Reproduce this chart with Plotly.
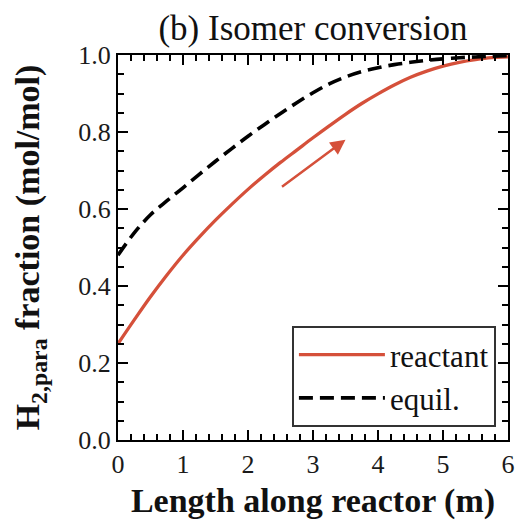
import plotly.graph_objects as go

length_m = [0, 0.25, 0.5, 0.75, 1.0, 1.25, 1.5, 1.75, 2.0, 2.25, 2.5, 2.75, 3.0,
            3.25, 3.5, 3.75, 4.0, 4.25, 4.5, 4.75, 5.0, 5.25, 5.5, 5.75, 6.0]
reactant = [0.25, 0.312, 0.372, 0.428, 0.48, 0.527, 0.571, 0.612, 0.651, 0.687, 0.721, 0.753, 0.785,
            0.816, 0.846, 0.874, 0.899, 0.922, 0.942, 0.958, 0.971, 0.981, 0.988, 0.993, 0.995]
equil = [0.48, 0.538, 0.585, 0.621, 0.655, 0.69, 0.724, 0.757, 0.789, 0.819, 0.848, 0.876, 0.902,
         0.925, 0.943, 0.957, 0.967, 0.975, 0.981, 0.986, 0.99, 0.993, 0.995, 0.997, 0.998]

arrow_start = (2.5, 0.655)
arrow_end = (3.5, 0.78)

RED = "#D5503A"
SERIF = "Liberation Serif, Times New Roman, serif"

fig = go.Figure()
fig.add_trace(go.Scatter(x=length_m, y=reactant, mode="lines", name="reactant",
                         line=dict(color=RED, width=3.3, shape="spline", smoothing=1.0)))
fig.add_trace(go.Scatter(x=length_m, y=equil, mode="lines", name="equil.",
                         line=dict(color="black", width=3.6, dash="14px,7px", shape="spline", smoothing=1.0)))

fig.add_annotation(x=arrow_end[0], y=arrow_end[1], ax=arrow_start[0], ay=arrow_start[1],
                   xref="x", yref="y", axref="x", ayref="y", text="", showarrow=True,
                   arrowhead=2, arrowsize=1.2, arrowwidth=2.5, arrowcolor=RED)

axis_common = dict(showline=True, linecolor="black", linewidth=2, mirror="allticks",
                   ticks="inside", ticklen=10, tickwidth=2, tickcolor="black",
                   showgrid=False, zeroline=False,
                   tickfont=dict(family=SERIF, size=26, color="#1a1a1a"))

fig.update_xaxes(range=[0, 6], dtick=1, tick0=0, automargin="height",
                 minor=dict(ticks="inside", ticklen=6, tickwidth=1.5, dtick=0.2, tickcolor="black"),
                 title=dict(text="<b>Length along reactor (m)</b>",
                            font=dict(family=SERIF, size=34, color="#111"), standoff=10),
                 **axis_common)
fig.update_yaxes(range=[0, 1.0], dtick=0.2, tick0=0, tickformat=".1f", automargin="left",
                 minor=dict(ticks="inside", ticklen=6, tickwidth=1.5, dtick=0.05, tickcolor="black"),
                 title=dict(text="<b>H<sub>2,para</sub> fraction (mol/mol)</b>",
                            font=dict(family=SERIF, size=34, color="#111"), standoff=28),
                 **axis_common)

fig.update_layout(
    width=518, height=523, autosize=False,
    margin=dict(l=118, r=10, t=55, b=83),
    paper_bgcolor="white", plot_bgcolor="white",
    title=dict(text="(b) Isomer conversion", x=0.5, xref="paper", xanchor="center",
               y=1 - 28 / 523, yref="container", yanchor="middle",
               font=dict(family=SERIF, size=35, color="#111")),
    legend=dict(x=0.969, y=0.034, xanchor="right", yanchor="bottom",
                bordercolor="#333", borderwidth=2, bgcolor="white",
                font=dict(family=SERIF, size=31, color="#111"),
                itemwidth=86, tracegroupgap=0),
    showlegend=True,
)

fig.write_html("out.html",
               config={"displayModeBar": False, "responsive": False},
               default_width="518px", default_height="523px",
               post_script="document.body.style.margin='0';")
